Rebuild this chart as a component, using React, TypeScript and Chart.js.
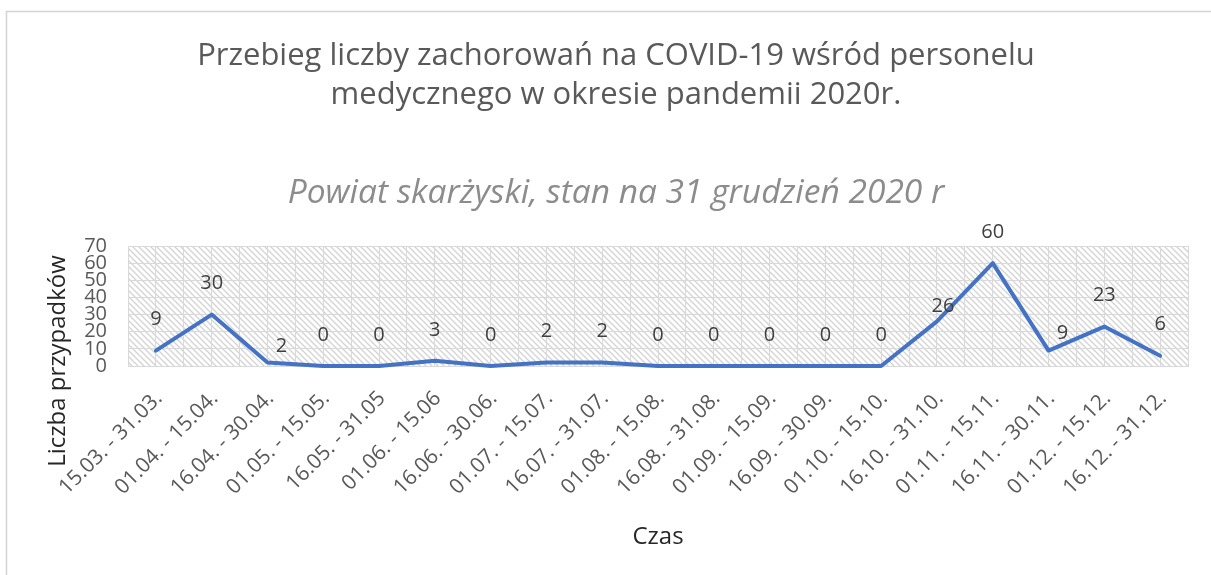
import React, { useEffect, useRef } from "react";
import { Chart, registerables } from "chart.js";

Chart.register(...registerables);

const titleLines = [
  "Przebieg liczby zachorowań na COVID-19 wśród personelu",
  "medycznego w okresie pandemii 2020r.",
];
const subtitleText = "Powiat skarżyski, stan na 31 grudzień 2020 r";
const yAxisTitle = "Liczba przypadków";
const xAxisTitle = "Czas";

const categories = [
  "15.03. - 31.03.",
  "01.04. - 15.04.",
  "16.04. - 30.04.",
  "01.05. - 15.05.",
  "16.05. - 31.05",
  "01.06. - 15.06",
  "16.06. - 30.06.",
  "01.07. - 15.07.",
  "16.07. - 31.07.",
  "01.08. - 15.08.",
  "16.08. - 31.08.",
  "01.09. - 15.09.",
  "16.09. - 30.09.",
  "01.10. - 15.10.",
  "16.10. - 31.10.",
  "01.11. - 15.11.",
  "16.11. - 30.11.",
  "01.12. - 15.12.",
  "16.12. - 31.12.",
];
const cases = [9, 30, 2, 0, 0, 3, 0, 2, 2, 0, 0, 0, 0, 0, 26, 60, 9, 23, 6];
const yMin = 0;
const yMax = 70;
const yStep = 10;

const FONT = "'Open Sans', 'Noto Sans', sans-serif";

// label placement tweaks (Excel moved a few labels to avoid the line)
const labelShift: Record<number, [number, number]> = {
  2: [14, 16],
  14: [6, 15],
  16: [14, 17],
};

function makeHatch(): CanvasPattern | string {
  const c = document.createElement("canvas");
  c.width = 6;
  c.height = 6;
  const g = c.getContext("2d");
  if (!g) return "#fff";
  g.fillStyle = "#ffffff";
  g.fillRect(0, 0, 6, 6);
  g.strokeStyle = "#d3d3d3";
  g.lineWidth = 1.3;
  g.beginPath();
  g.moveTo(-1, -1);
  g.lineTo(7, 7);
  g.moveTo(-4, 2);
  g.lineTo(4, 10);
  g.moveTo(2, -4);
  g.lineTo(10, 4);
  g.stroke();
  const p = g.createPattern(c, "repeat");
  return p || "#fff";
}

const backgroundPlugin = {
  id: "bgHatch",
  beforeDraw(chart: any) {
    const { ctx, chartArea } = chart;
    ctx.save();
    ctx.fillStyle = "#ffffff";
    ctx.fillRect(0, 0, chart.width, chart.height);
    ctx.strokeStyle = "#d4d4d4";
    ctx.lineWidth = 1.5;
    ctx.strokeRect(6.5, 11.5, chart.width + 20, chart.height + 20);
    ctx.fillStyle = makeHatch();
    ctx.fillRect(
      chartArea.left,
      chartArea.top,
      chartArea.right - chartArea.left,
      chartArea.bottom - chartArea.top
    );
    ctx.restore();
  },
};

const labelsPlugin = {
  id: "valueLabels",
  afterDatasetsDraw(chart: any) {
    const { ctx } = chart;
    const meta = chart.getDatasetMeta(0);
    ctx.save();
    ctx.font = `20px ${FONT}`;
    ctx.fillStyle = "#404040";
    ctx.textAlign = "center";
    ctx.textBaseline = "middle";
    meta.data.forEach((pt: any, i: number) => {
      const v = chart.data.datasets[0].data[i];
      const sh = labelShift[i] || [0, 31];
      ctx.fillText(String(v), pt.x + sh[0], pt.y - sh[1]);
    });
    ctx.restore();
  },
};

const xTickPlugin = {
  id: "xTickLabels",
  afterDraw(chart: any) {
    const { ctx } = chart;
    const scale = chart.scales.x;
    ctx.save();
    ctx.font = `21px ${FONT}`;
    ctx.fillStyle = "#595959";
    ctx.textAlign = "right";
    ctx.textBaseline = "middle";
    scale.ticks.forEach((_t: any, i: number) => {
      const x = scale.getPixelForTick(i);
      ctx.save();
      ctx.translate(x + 3, scale.top + 29);
      ctx.rotate(-Math.PI / 4);
      ctx.fillText(String(chart.data.labels[i]), 0, 0);
      ctx.restore();
    });
    ctx.restore();
  },
};

const yTitlePlugin = {
  id: "yTitle",
  afterDraw(chart: any) {
    const { ctx } = chart;
    ctx.save();
    ctx.translate(58, 361);
    ctx.rotate(-Math.PI / 2);
    ctx.font = `24px ${FONT}`;
    ctx.fillStyle = "#262626";
    ctx.textAlign = "center";
    ctx.textBaseline = "middle";
    ctx.fillText(yAxisTitle, 0, 0);
    ctx.restore();
  },
};

export default function App() {
  const ref = useRef<HTMLCanvasElement | null>(null);

  useEffect(() => {
    if (!ref.current) return;
    const chart = new Chart(ref.current, {
      type: "line",
      data: {
        labels: categories,
        datasets: [
          {
            data: cases,
            borderColor: "#4472C4",
            borderWidth: 4,
            pointRadius: 0,
            pointHoverRadius: 0,
            tension: 0,
            fill: false,
            borderJoinStyle: "round",
            borderCapStyle: "round",
            clip: 6,
          } as any,
        ],
      },
      options: {
        responsive: false,
        animation: false,
        devicePixelRatio: 1,
        events: [],
        layout: { padding: { left: 44, right: 23, top: 0, bottom: 0 } },
        plugins: {
          legend: { display: false },
          tooltip: { enabled: false },
          title: {
            display: true,
            text: titleLines,
            color: "#595959",
            font: { family: FONT, size: 31, weight: "normal", lineHeight: 39 / 31 },
            padding: { top: 37, bottom: 0 },
          },
          subtitle: {
            display: true,
            text: subtitleText,
            color: "#8c8c8c",
            font: { family: FONT, size: 33.5, style: "italic", weight: "normal", lineHeight: 40 / 33.5 },
            padding: { top: 58, bottom: 33 },
          },
        },
        scales: {
          x: {
            type: "category",
            offset: true,
            grid: { display: false, drawTicks: false },
            border: { display: true, color: "#d9d9d9", width: 1 },
            ticks: { display: false },
            title: {
              display: true,
              text: xAxisTitle,
              color: "#262626",
              font: { family: FONT, size: 24 },
              padding: { top: 0, bottom: 23 },
            },
            afterFit(scale: any) {
              scale.height = 209;
            },
          },
          xg: {
            type: "linear",
            position: "top",
            min: -0.5,
            max: categories.length - 0.5,
            grid: { color: "#d9d9d9", lineWidth: 1, drawTicks: false },
            border: { display: false },
            ticks: { display: false, stepSize: 0.5 },
            afterFit(scale: any) {
              scale.height = 0;
            },
          },
          y: {
            min: yMin,
            max: yMax,
            grid: { color: "#d9d9d9", lineWidth: 1, drawTicks: false },
            border: { display: false },
            ticks: {
              stepSize: yStep,
              autoSkip: false,
              color: "#595959",
              font: { family: FONT, size: 20, lineHeight: 1 },
              padding: 21,
            },
            afterFit(scale: any) {
              scale.width = 84;
            },
          },
        },
      },
      plugins: [backgroundPlugin, labelsPlugin, xTickPlugin, yTitlePlugin],
    });
    return () => chart.destroy();
  }, []);

  return (
    <div style={{ position: "absolute", left: 0, top: 0, width: 1211, height: 575, overflow: "hidden", background: "#fff" }}>
      <canvas ref={ref} width={1211} height={575} style={{ display: "block", width: 1211, height: 575 }} />
    </div>
  );
}
